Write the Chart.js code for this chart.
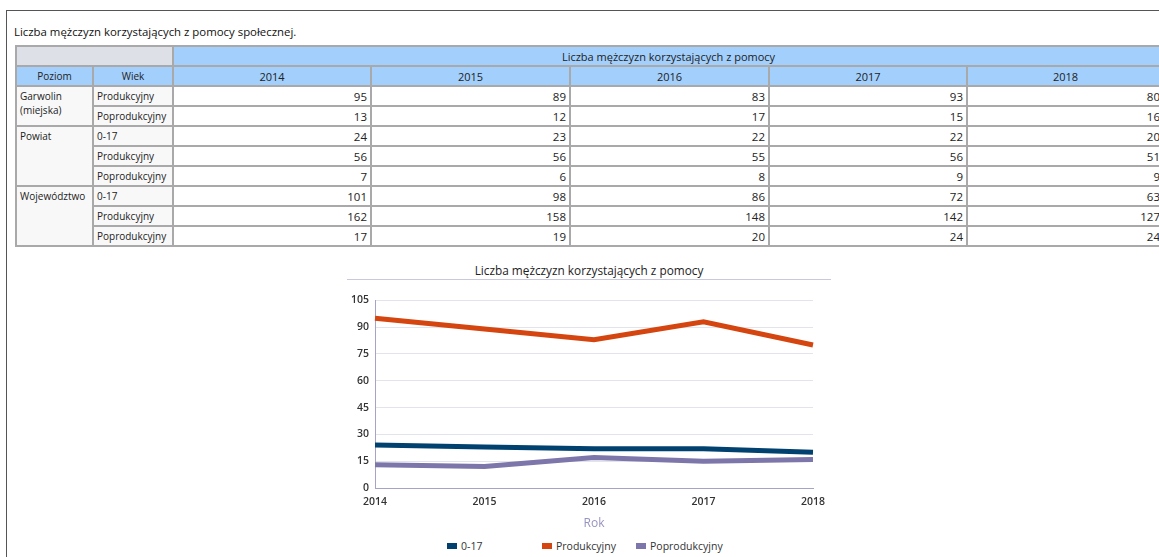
<!DOCTYPE html>
<html><head><meta charset="utf-8">
<script src="https://cdn.jsdelivr.net/npm/chart.js@4/dist/chart.umd.min.js"></script>
<style>
html,body{margin:0;padding:0;background:#fff;width:1159px;height:557px;overflow:hidden;font-family:"Open Sans",sans-serif;color:#222;}
#frame{position:absolute;left:6px;top:10px;width:1300px;height:600px;border-top:1px solid #555;border-left:1px solid #555;}
#pagetitle{position:absolute;left:14px;top:24px;font-size:11.4px;color:#111;white-space:nowrap;}
table{position:absolute;left:15px;top:45px;border-collapse:collapse;table-layout:fixed;width:1148px;}
td,th{border:2px solid #a9a9a9;height:18px;padding:0 3px;font-weight:normal;font-size:11px;line-height:15px;overflow:hidden;white-space:nowrap;}
th.blue{background:#a2cffc;text-align:center;}
th.gray{background:#dde0e6;}
th.lab{font-size:10px;}
td.lab{background:#f8f8f8;font-size:10px;text-align:left;}
td.lvl{vertical-align:top;white-space:normal;line-height:14px;padding-top:2px;}
td.num{text-align:right;background:#fff;font-size:11.5px;}
#ctitle{position:absolute;left:347px;width:484px;top:262px;text-align:center;font-size:11.8px;color:#222;}
#cline{position:absolute;left:347px;width:484px;top:279px;border-top:1px solid #c9c9dd;}
#chartbox{position:absolute;left:330px;top:288px;width:520px;height:245px;}
#legend{position:absolute;top:539px;left:0;width:1159px;height:16px;font-size:10.5px;color:#333;}
.li{position:absolute;white-space:nowrap;line-height:14px;}
.sw{display:inline-block;width:10px;height:6px;margin-right:4px;vertical-align:1px;}
</style></head>
<body>
<div id="frame"></div>
<div id="pagetitle">Liczba mężczyzn korzystających z pomocy społecznej.</div>
<table id="tbl"></table>
<div id="ctitle">Liczba mężczyzn korzystających z pomocy</div>
<div id="cline"></div>
<div id="chartbox"><canvas id="c"></canvas></div>
<div id="legend"></div>
<script>
// ---- data ----
const years = ['2014','2015','2016','2017','2018'];
const levels = ['Garwolin (miejska)','Powiat','Województwo'];
const ageGroups = ['0-17','Produkcyjny','Poprodukcyjny'];
const tableHeader = 'Liczba mężczyzn korzystających z pomocy';

const garwolinProd   = [95, 89, 83, 93, 80];
const garwolinPoprod = [13, 12, 17, 15, 16];
const powiat017      = [24, 23, 22, 22, 20];
const powiatProd     = [56, 56, 55, 56, 51];
const powiatPoprod   = [7, 6, 8, 9, 9];
const woj017         = [101, 98, 86, 72, 63];
const wojProd        = [162, 158, 148, 142, 127];
const wojPoprod      = [17, 19, 20, 24, 24];

const chartSeriesNames = ['0-17','Produkcyjny','Poprodukcyjny'];
const chart017    = [24, 23, 22, 22, 20];
const chartProd   = [95, 89, 83, 93, 80];
const chartPoprod = [13, 12, 17, 15, 16];
const seriesColors = ['#00416f', '#d5450f', '#7c76aa'];

// ---- table ----
const groups = [
  {level: levels[0], rows: [[ageGroups[1], garwolinProd], [ageGroups[2], garwolinPoprod]]},
  {level: levels[1], rows: [[ageGroups[0], powiat017], [ageGroups[1], powiatProd], [ageGroups[2], powiatPoprod]]},
  {level: levels[2], rows: [[ageGroups[0], woj017], [ageGroups[1], wojProd], [ageGroups[2], wojPoprod]]}
];
const colW = [77, 80, 198, 199, 199, 198, 197];
let h = '<colgroup>' + colW.map(w => '<col style="width:' + w + 'px">').join('') + '</colgroup>';
h += '<tr><th class="gray" colspan="2"></th><th class="blue" colspan="5">' + tableHeader + '</th></tr>';
h += '<tr><th class="blue lab">Poziom</th><th class="blue lab">Wiek</th>' + years.map(y => '<th class="blue">' + y + '</th>').join('') + '</tr>';
groups.forEach(g => {
  g.rows.forEach((r, i) => {
    h += '<tr>';
    if (i === 0) h += '<td class="lab lvl" rowspan="' + g.rows.length + '">' + g.level + '</td>';
    h += '<td class="lab">' + r[0] + '</td>' + r[1].map(v => '<td class="num">' + v + '</td>').join('') + '</tr>';
  });
});
document.getElementById('tbl').innerHTML = h;

// ---- chart ----
const datasets = [chart017, chartProd, chartPoprod].map((d, i) => ({
  label: chartSeriesNames[i], data: d, borderColor: seriesColors[i], backgroundColor: seriesColors[i],
  borderWidth: 5, pointRadius: 0, tension: 0, fill: false
}));
const tickFont = {family: '"Open Sans", sans-serif', size: 10.5, weight: '600'};
new Chart(document.getElementById('c'), {
  type: 'line',
  data: {labels: years, datasets},
  options: {
    responsive: true, maintainAspectRatio: false, animation: false,
    layout: {padding: {left: 0, right: 37, top: 10, bottom: 0}},
    plugins: {legend: {display: false}, tooltip: {enabled: false}, title: {display: false}},
    scales: {
      x: {
        offset: false,
        grid: {display: false},
        border: {display: true, color: '#a4a4c8', width: 1},
        ticks: {color: '#333', font: tickFont, padding: 0, maxRotation: 0, autoSkip: false},
        title: {display: true, text: 'Rok', color: '#9793c0', font: {family: '"Open Sans", sans-serif', size: 12}, padding: {top: 4, bottom: 2}},
        afterFit: s => { s.height = 45; }
      },
      y: {
        min: 0, max: 105,
        ticks: {stepSize: 15, color: '#333', font: tickFont, padding: 6},
        grid: {color: '#e3e3ec', drawTicks: false},
        border: {display: true, color: '#a4a4c8', width: 1},
        afterFit: s => { s.width = 45; }
      }
    }
  }
});

// ---- legend ----
const legendX = [447, 542, 636];
const lg = document.getElementById('legend');
datasets.forEach((d, i) => {
  const el = document.createElement('div');
  el.className = 'li';
  el.style.left = legendX[i] + 'px';
  el.innerHTML = '<span class="sw" style="background:' + d.borderColor + '"></span>' + d.label;
  lg.appendChild(el);
});
</script>
</body></html>
